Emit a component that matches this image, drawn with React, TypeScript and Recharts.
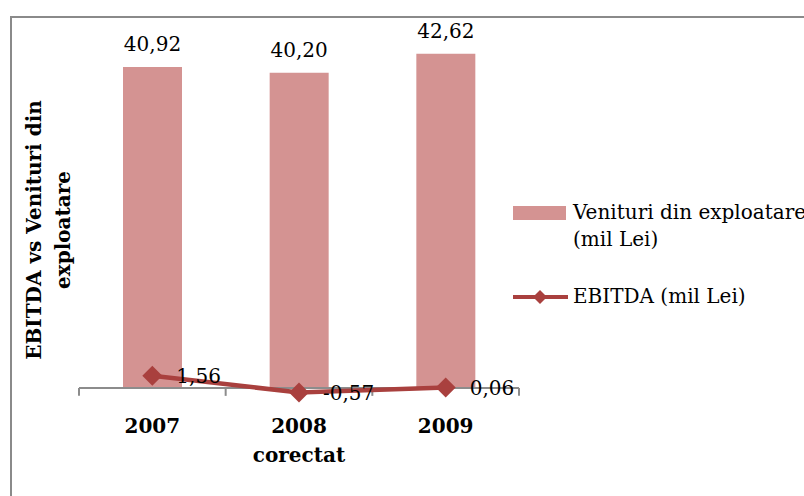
import {
  Bar,
  ComposedChart,
  LabelList,
  Legend,
  Line,
  ReferenceLine,
  XAxis,
  YAxis,
} from "recharts";

const BAR = "#D49392";
const LINE = "#A9403E";
const AXIS = "#8C8C8C";
const FONT = "'DejaVu Serif', serif";
const DIAMOND = 10;

const years = ["2007", "2008 corectat", "2009"];
const venituri = [40.92, 40.2, 42.62];
const ebitda = [1.56, -0.57, 0.06];
const yMax = 45;
const tickDepth = -1; // tick marks hang one unit below the zero line

// tick marks sit between the categories, like Excel's category axis
const boundaryTicks = [
  ...years.map((year) => ({ year, position: "start" as const })),
  { year: years[years.length - 1], position: "end" as const },
];

const data = years.map((year, i) => ({
  year,
  venituri: venituri[i],
  ebitda: ebitda[i],
}));

const fmt = (v: number) => v.toFixed(2).replace(".", ",");

function YearTick({ x, y, payload }: any) {
  const words = String(payload.value).split(" ");
  return (
    <text
      x={x}
      y={y}
      textAnchor="middle"
      fontFamily={FONT}
      fontWeight="bold"
      fontSize={20}
      fill="#000"
    >
      {words.map((w, i) => (
        <tspan key={w} x={x} dy={i === 0 ? 40 : 29}>
          {w}
        </tspan>
      ))}
    </text>
  );
}

function DiamondDot({ cx, cy }: any) {
  if (cx == null || cy == null) return null;
  const r = DIAMOND;
  return (
    <polygon
      points={`${cx},${cy - r} ${cx + r},${cy} ${cx},${cy + r} ${cx - r},${cy}`}
      fill={LINE}
    />
  );
}

function LegendBox() {
  const text = { fontFamily: FONT, fontSize: 20, color: "#000", lineHeight: "27px" };
  return (
    <div style={{ width: 291, marginLeft: -6 }}>
      <div style={{ display: "flex", alignItems: "flex-start" }}>
        <span
          style={{
            width: 53,
            height: 14,
            background: BAR,
            marginTop: 7,
            marginRight: 7,
            flex: "none",
          }}
        />
        <span style={{ ...text, whiteSpace: "nowrap" }}>
          Venituri din exploatare
          <br />
          (mil Lei)
        </span>
      </div>
      <div style={{ display: "flex", alignItems: "center", marginTop: 30 }}>
        <svg width={55} height={16} style={{ marginRight: 5, flex: "none" }}>
          <line x1={0} y1={8} x2={55} y2={8} stroke={LINE} strokeWidth={4} />
          <polygon points="27,1 34,8 27,15 20,8" fill={LINE} />
        </svg>
        <span style={text}>EBITDA (mil Lei)</span>
      </div>
    </div>
  );
}

export default function App() {
  const yMin = Math.min(0, ...ebitda);
  return (
    <div
      style={{
        position: "absolute",
        left: 0,
        top: 0,
        width: 804,
        height: 496,
        overflow: "hidden",
        background: "#fff",
      }}
    >
      <div
        style={{
          position: "absolute",
          left: 10,
          top: 16,
          width: 840,
          height: 520,
          border: "2px solid #8A8A8A",
          boxSizing: "border-box",
        }}
      />
      <svg
        width={100}
        height={496}
        style={{ position: "absolute", left: 0, top: 0 }}
      >
        <text
          transform="translate(34 230) rotate(-90)"
          textAnchor="middle"
          dominantBaseline="central"
          fontFamily={FONT}
          fontWeight="bold"
          fontSize={20}
        >
          EBITDA vs Venituri din
        </text>
        <text
          transform="translate(63 230) rotate(-90)"
          textAnchor="middle"
          dominantBaseline="central"
          fontFamily={FONT}
          fontWeight="bold"
          fontSize={20}
        >
          exploatare
        </text>
      </svg>
      <div style={{ position: "absolute", left: 0, top: 0 }}>
        <ComposedChart
          width={804}
          height={496}
          data={data}
          margin={{ top: 35, right: 0, bottom: 3.5, left: 79 }}
        >
          <XAxis
            dataKey="year"
            height={100}
            axisLine={false}
            tickLine={false}
            tickSize={0}
            tickMargin={0}
            interval={0}
            tick={<YearTick />}
          />
          <YAxis hide domain={[yMin, yMax]} />
          <Legend
            layout="vertical"
            align="right"
            verticalAlign="top"
            wrapperStyle={{ left: 519, top: 199, width: 285 }}
            content={() => <LegendBox />}
          />
          <Bar dataKey="venituri" fill={BAR} barSize={59} isAnimationActive={false}>
            <LabelList
              dataKey="venituri"
              position="top"
              offset={16}
              formatter={(v: any) => fmt(Number(v))}
              style={{ fontFamily: FONT, fontSize: 20, fill: "#000" }}
            />
          </Bar>
          <ReferenceLine y={0} stroke={AXIS} strokeWidth={2} />
          {boundaryTicks.map((t) => (
            <ReferenceLine
              key={t.year + t.position}
              segment={[
                { x: t.year, y: 0 },
                { x: t.year, y: tickDepth },
              ]}
              position={t.position}
              ifOverflow="visible"
              stroke={AXIS}
              strokeWidth={2}
            />
          ))}
          <Line
            dataKey="ebitda"
            stroke={LINE}
            strokeWidth={4.5}
            dot={<DiamondDot />}
            activeDot={false}
            isAnimationActive={false}
          >
            <LabelList
              dataKey="ebitda"
              position="right"
              offset={24}
              formatter={(v: any) => fmt(Number(v))}
              style={{ fontFamily: FONT, fontSize: 20, fill: "#000" }}
            />
          </Line>
        </ComposedChart>
      </div>
    </div>
  );
}
